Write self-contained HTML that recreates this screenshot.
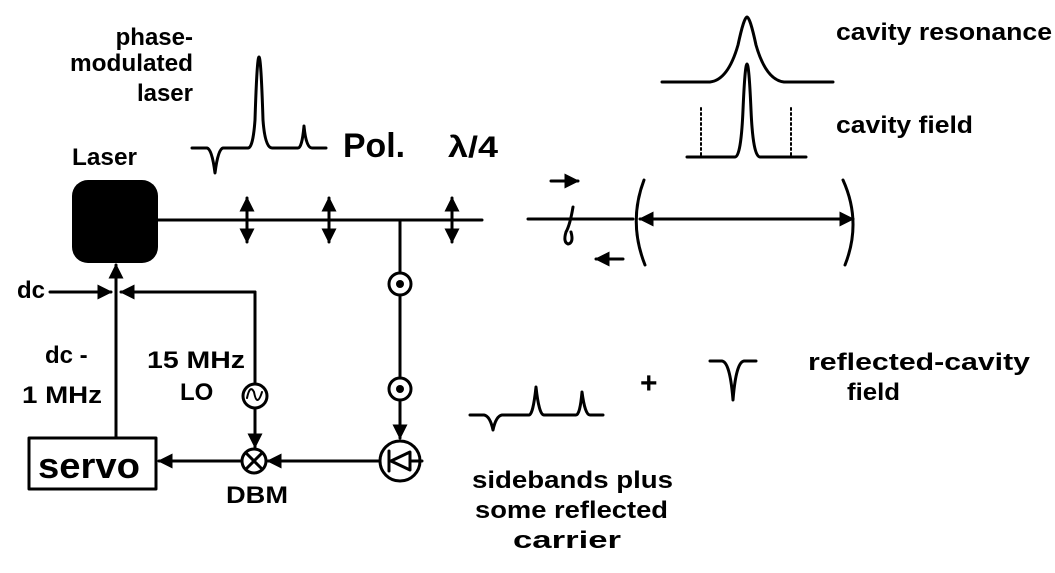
<!DOCTYPE html>
<html><head><meta charset="utf-8"><style>
html,body{margin:0;padding:0;background:#fff;}
svg{display:block;}
text{font-family:"Liberation Sans",Arial,sans-serif;font-weight:bold;fill:#000;}
</style></head><body>
<svg width="1055" height="573" viewBox="0 0 1055 573" xmlns="http://www.w3.org/2000/svg">
<defs>
<marker id="ah" viewBox="0 0 10 10" refX="9" refY="5" markerWidth="5" markerHeight="5" orient="auto-start-reverse"><path d="M0,0 L10,5 L0,10 z" fill="#000"/></marker>
</defs>
<g stroke="#000" stroke-width="3" fill="none" stroke-linecap="round" stroke-linejoin="round">
<path d="M192,148 L207,148 Q212,149 215,173 Q218,149 223,148 L248,148 Q253,148 255,120 Q257,57 259,57 Q261,57 263,120 Q265,148 272,148 L298,148 Q302,148 304,126 Q306,148 312,148 L326,148"/>
<path d="M662,82 L710,82 Q728,80 738,45 Q744,17 747,17 Q750,17 756,45 Q766,80 784,82 L833,82"/>
<path d="M687,157 L735,157 Q741,157 743,110 Q745,64 747,64 Q749,64 751,110 Q753,157 760,157 L806,157"/>
<path d="M701,108 L701,157 M791,108 L791,157" stroke-width="2" stroke-dasharray="2,3"/>
<path d="M470,415 L484,415 Q490,416 493,430 Q496,416 502,415 L529,415 Q533,415 536,387 Q539,415 544,415 L576,415 Q580,415 582,392 Q585,415 590,415 L603,415"/>
<path d="M710,361 L722,361 Q730,362 733,400 Q736,362 744,361 L756,361"/>
<line x1="158" y1="220" x2="482" y2="220"/>
<line x1="528" y1="219" x2="633" y2="219"/>
<line x1="640" y1="219" x2="853" y2="219" marker-start="url(#ah)" marker-end="url(#ah)"/>
<line x1="247" y1="198" x2="247" y2="242" marker-start="url(#ah)" marker-end="url(#ah)"/>
<line x1="329" y1="198" x2="329" y2="242" marker-start="url(#ah)" marker-end="url(#ah)"/>
<line x1="452" y1="198" x2="452" y2="242" marker-start="url(#ah)" marker-end="url(#ah)"/>
<path d="M573,207 Q570,225 566,232 Q563,242 568,244 Q574,243 571,232"/>
<line x1="551" y1="181" x2="578" y2="181" marker-end="url(#ah)"/>
<line x1="623" y1="259" x2="596" y2="259" marker-end="url(#ah)"/>
<path d="M644,180 Q628,222 645,265"/>
<path d="M843,180 Q862,222 845,265"/>
<line x1="400" y1="220" x2="400" y2="438" marker-end="url(#ah)"/>
<circle cx="400" cy="284" r="11" fill="#fff"/>
<circle cx="400" cy="389" r="11" fill="#fff"/>
<circle cx="400" cy="461" r="20"/>
<line x1="389" y1="451" x2="389" y2="471"/>
<path d="M391,461 L410,452 L410,470 Z"/>
<line x1="410" y1="461" x2="422" y2="461"/>
<line x1="380" y1="461" x2="268" y2="461" marker-end="url(#ah)"/>
<circle cx="254" cy="461" r="12"/>
<line x1="246" y1="453" x2="262" y2="469"/>
<line x1="262" y1="453" x2="246" y2="469"/>
<line x1="242" y1="461" x2="159" y2="461" marker-end="url(#ah)"/>
<line x1="255" y1="292" x2="255" y2="384"/>
<circle cx="255" cy="396" r="12"/>
<path d="M247,398 Q250,384 254,392 Q257,408 262,392" stroke-width="2"/>
<line x1="255" y1="408" x2="255" y2="447" marker-end="url(#ah)"/>
<line x1="255" y1="292" x2="121" y2="292" marker-end="url(#ah)"/>
<line x1="116" y1="438" x2="116" y2="265" marker-end="url(#ah)"/>
<line x1="50" y1="292" x2="111" y2="292" marker-end="url(#ah)"/>
<rect x="29" y="438" width="127" height="51"/>
</g>
<circle cx="400" cy="284" r="4" fill="#000"/>
<circle cx="400" cy="389" r="4" fill="#000"/>
<rect x="72" y="180" width="86" height="83" rx="16" fill="#000"/>
<g font-size="24">
<text x="193" y="45" text-anchor="end">phase-</text>
<text x="70" y="71" textLength="123" lengthAdjust="spacingAndGlyphs">modulated</text>
<text x="193" y="101" text-anchor="end">laser</text>
<text x="72" y="165" textLength="65" lengthAdjust="spacingAndGlyphs">Laser</text>
<text x="836" y="40" textLength="216" lengthAdjust="spacingAndGlyphs">cavity resonance</text>
<text x="836" y="133" textLength="137" lengthAdjust="spacingAndGlyphs">cavity field</text>
<text x="808" y="370" textLength="222" lengthAdjust="spacingAndGlyphs">reflected-cavity</text>
<text x="847" y="400" textLength="53" lengthAdjust="spacingAndGlyphs">field</text>
<text x="472" y="488" textLength="201" lengthAdjust="spacingAndGlyphs">sidebands plus</text>
<text x="475" y="518" textLength="193" lengthAdjust="spacingAndGlyphs">some reflected</text>
<text x="513" y="548" textLength="108" lengthAdjust="spacingAndGlyphs">carrier</text>
<text x="17" y="298">dc</text>
<text x="45" y="363">dc -</text>
<text x="22" y="403" textLength="80" lengthAdjust="spacingAndGlyphs">1 MHz</text>
<text x="147" y="368" textLength="98" lengthAdjust="spacingAndGlyphs">15 MHz</text>
<text x="180" y="400">LO</text>
<text x="226" y="503" textLength="62" lengthAdjust="spacingAndGlyphs">DBM</text>
</g>
<text x="343" y="157" font-size="34" textLength="62" lengthAdjust="spacingAndGlyphs">Pol.</text>
<text x="448" y="157" font-size="30" font-weight="normal" textLength="50" lengthAdjust="spacingAndGlyphs">λ/4</text>
<text x="38" y="478" font-size="36" textLength="102" lengthAdjust="spacingAndGlyphs">servo</text>
<text x="640" y="393" font-size="30">+</text>
</svg>
</body></html>
